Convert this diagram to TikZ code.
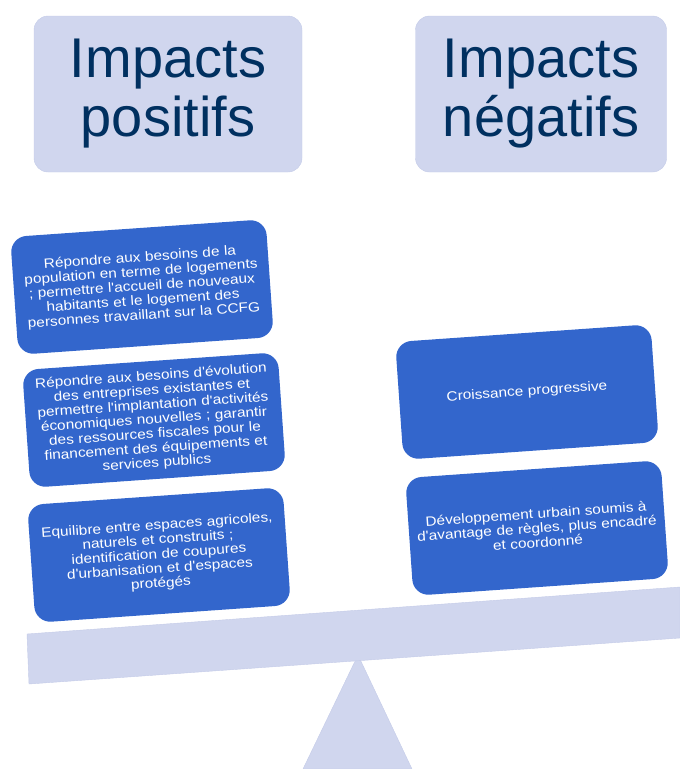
\documentclass[tikz,border=0pt]{standalone}
\usepackage{fontspec}
\setmainfont{Liberation Sans}
\newfontfamily\boxfont{Liberation Sans}[FakeStretch=1.14]
\usetikzlibrary{positioning}
\definecolor{BoxBlue}{RGB}{51,102,204}
\definecolor{PaleLavender}{RGB}{208,214,238}
\definecolor{LavenderEdge}{RGB}{196,203,232}
\definecolor{TitleNavy}{RGB}{0,48,96}

\begin{document}
\begin{tikzpicture}[x=1pt,y=-1pt,
    titlebox/.style={fill=PaleLavender,draw=LavenderEdge,rounded corners=14pt,
      minimum height=156pt,align=center,text=TitleNavy,
      font=\fontsize{56}{58}\selectfont},
    impactbox/.style={fill=BoxBlue,rounded corners=16pt,minimum width=256pt,
      minimum height=118pt,text width=250pt,align=center,text=white,inner sep=0pt,
      font=\boxfont\fontsize{13.5}{14.5}\selectfont,rotate=4}]
  \useasboundingbox (0,0) rectangle (680,769);
  % titles
  \node[titlebox,minimum width=268pt] (positifs) at (168,94) {Impacts\\[1pt]positifs};
  \node[titlebox,minimum width=251pt] (negatifs) at (541,94) {Impacts\\[1pt]négatifs};
  % balance
  \fill[PaleLavender,draw=LavenderEdge] (358,655) -- (412,769) -- (303,769) -- cycle;
  \fill[PaleLavender,draw=LavenderEdge] (27,634) -- (680,587) -- (680,638) -- (29,684) -- cycle;
  % left pan
  \node[impactbox] (logements) at (142,287) {Répondre aux besoins de la\\population en terme de logements\\; permettre l'accueil de nouveaux\\habitants et le logement des\\personnes travaillant sur la CCFG};
  \node[impactbox] (activites) at (154,420) {Répondre aux besoins d'évolution\\des entreprises existantes et\\permettre l'implantation d'activités\\économiques nouvelles ; garantir\\des ressources fiscales pour le\\financement des équipements et\\services publics};
  \node[impactbox] (equilibre) at (159,555) {Equilibre entre espaces agricoles,\\naturels et construits ;\\identification de coupures\\d'urbanisation et d'espaces\\protégés};
  % right pan
  \node[impactbox] (croissance) at (527,392) {Croissance progressive};
  \node[impactbox] (regles) at (537,528) {Développement urbain soumis à\\d'avantage de règles, plus encadré\\et coordonné};
\end{tikzpicture}
\end{document}
